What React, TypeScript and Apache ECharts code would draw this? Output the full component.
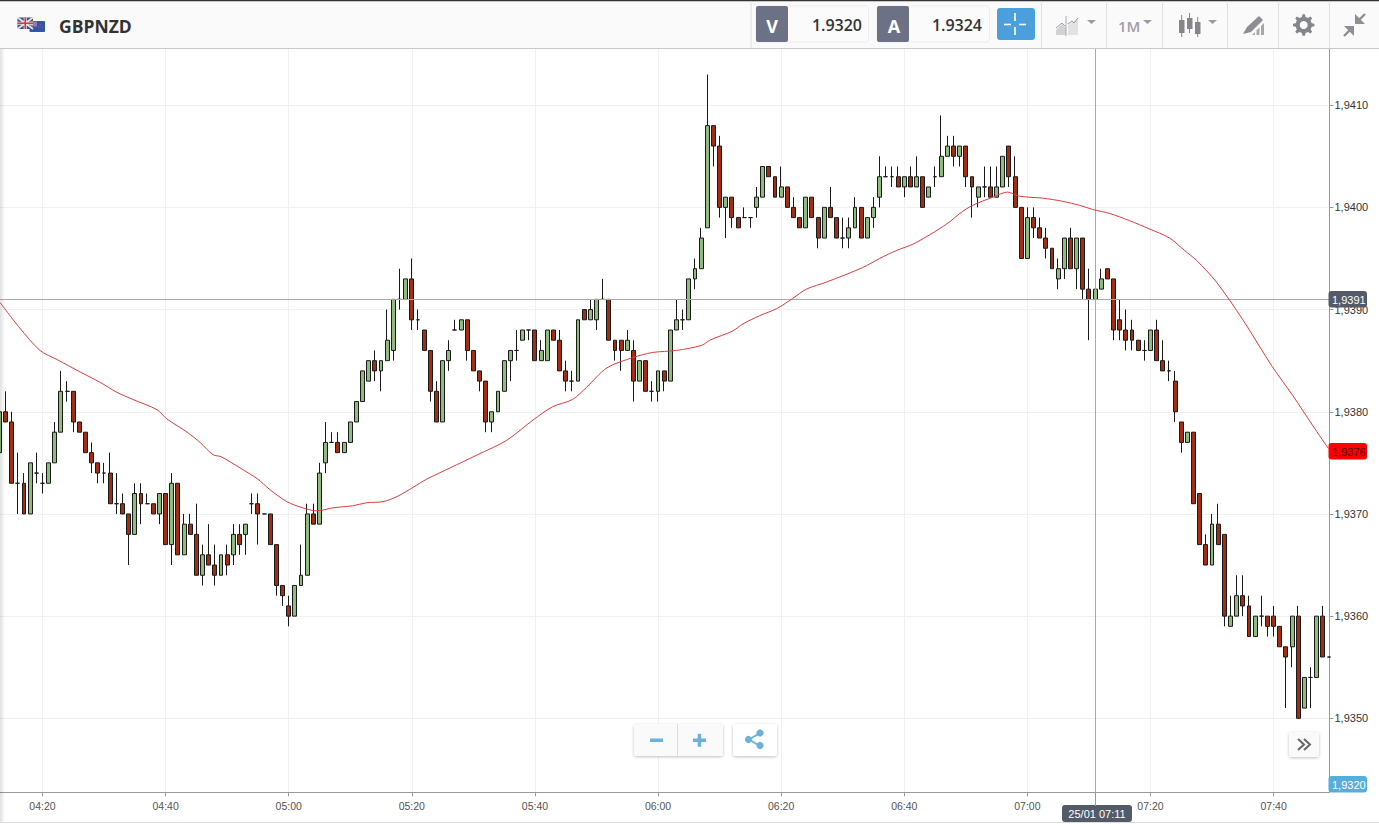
import React, { useEffect, useRef } from "react";
import * as echarts from "echarts";

// one row per minute from 04:13: open, close, low, high in pips above 1.9300
const firstMinute = 253;
const candles: number[][] = [
  [76,80,76,80],[80,79,79,82],[79,73,73,80],[73,73,70,76],[73,70,70,74],[70,75,70,75],[74,74,73,76],[73,73,72,74],
  [73,75,73,75],[75,78,75,79],[78,82,78,84],[82,82,81,83],[82,79,78,82],[79,78,78,79],[78,76,76,78],[76,75,74,77],
  [75,74,73,75],[74,74,73,75],[74,71,71,76],[71,71,70,74],[71,70,70,72],[70,68,65,70],[68,72,68,73],[72,71,69,73],
  [71,71,71,72],[71,70,70,71],[70,72,69,72],[72,67,67,72],[67,73,65,74],[73,66,66,73],[66,69,66,70],[69,68,68,70],
  [68,64,64,71],[64,66,63,67],[66,65,65,69],[65,64,63,67],[64,66,64,66],[66,65,64,67],
  [66,68,65,69],[68,67,66,69],[68,69,66,69],[71,71,70,72],[71,70,67,72],[70,70,70,70],[70,67,67,70],[67,63,62,67],
  [63,62,61,63],[61,60,59,62],[60,63,60,63],[63,64,63,67],[64,70,64,71],[70,69,69,71],[69,74,69,75],[75,77,74,79],
  [77,77,77,78],[77,76,76,78],[76,77,76,77],[77,79,77,79],[79,81,79,81],[81,84,81,84],[83,85,83,85],[85,84,83,86],
  [84,85,82,85],[85,87,85,90],[86,91,85,91],[91,91,90,94],[91,93,91,93],[93,89,88,95],[89,89,88,90],[88,86,86,88],
  [86,82,81,86],[82,79,79,83],[79,85,79,85],[85,86,84,87],
  [88,88,88,89],[88,89,88,89],[89,86,85,89],[86,84,84,86],[84,83,82,84],[83,79,78,83],[79,80,78,80],[80,82,80,82],
  [82,85,82,85],[85,86,83,86],[86,86,85,88],[87,88,87,88],[88,88,87,88],[88,85,85,88],[85,86,85,87],[85,88,85,88],
  [88,87,87,88],[87,84,84,88],[84,83,82,85],[83,83,82,84],[83,89,83,89],[90,89,89,90],[89,90,89,91],[89,91,88,91],
  [91,91,91,93],[91,87,87,91],[87,86,85,87],[87,86,84,87],[86,87,86,88],[86,83,81,87],[83,85,83,85],[85,82,82,85],
  [82,82,81,83],[82,84,81,84],[84,83,82,84],[83,88,83,88],
  [88,89,88,91],[89,89,88,90],[89,93,89,93],[93,94,92,95],[94,97,94,98],[98,108,98,113],[108,106,104,108],[106,100,99,107],
  [100,101,97,101],[101,99,98,101],[99,98,98,99],[99,99,99,100],[99,99,98,99],[100,101,99,102],[101,104,101,104],[104,103,103,104],
  [103,101,101,103],[101,102,101,104],[102,100,100,102],[100,99,99,101],[99,98,98,99],[98,101,98,101],[101,99,99,101],[99,97,96,99],
  [97,100,97,100],[100,99,99,102],[99,97,97,99],[97,97,96,99],[97,98,96,99],[98,100,98,101],[100,97,97,100],[97,99,97,99],
  [99,100,98,101],[101,103,100,105],[103,103,103,104],
  [103,103,102,104],[103,102,102,104],[102,103,101,103],[103,102,102,104],[102,103,102,105],[103,100,100,103],[101,102,101,102],[103,103,102,104],
  [103,105,103,109],[105,106,105,107],[106,105,104,107],[105,106,104,106],[106,103,102,106],[103,102,99,103],[101,102,100,102],[102,102,101,104],
  [102,101,101,104],[101,102,101,104],[102,105,102,105],[106,103,102,106],[103,100,100,105],[100,95,95,100],[95,99,95,100],[99,98,97,100],
  [98,97,97,99],[97,96,95,98],[96,94,94,96],[93,94,92,95],[94,97,93,97],[97,94,94,98],[94,97,92,97],[97,92,91,97],
  [92,91,87,94],[91,92,91,92],[92,93,92,94],[94,93,93,94],
  [93,88,87,93],[89,88,87,91],[88,87,86,90],[88,87,86,89],[87,86,86,87],[86,86,85,87],[86,88,86,88],[88,85,85,89],
  [85,84,84,87],[84,84,83,85],[83,80,79,84],[79,77,76,79],[77,78,77,78],[78,71,71,78],[72,67,67,72],[67,65,65,68],
  [65,69,65,70],[69,67,67,71],[68,60,59,68],[59,60,59,62],[60,62,60,64],[62,61,60,64],[61,58,58,62],[58,60,58,60],
  [60,60,59,62],[60,59,58,60],[60,59,58,61],[59,57,57,59],[57,56,51,57],[57,60,55,60],[60,50,50,61],[51,54,51,54],
  [54,54,51,55],[54,60,54,60],[60,56,56,61],[56,56,56,56],
];

// moving average: minute of day and pips above 1.9300
const maMinutes = [253.1,256.3,259.6,262.4,266.1,269.3,272.1,274.7,278.6,280.2,283.5,285.6,287.7,289,292.1,295,296.9,299.7,302.3,304.6,307.2,310.4,312.7,315.3,317.6,320.2,322.4,326.2,330.7,335.4,339.7,342.9,346.1,348.4,351.7,355.9,359.1,363,367.1,368.4,372.1,373.8,376.5,379.3,381.9,384.1,387.4,393.2,396,398.8,401.4,404.9,407.4,409,411.1,414.4,416.8,418.7,422.5,425.7,428.5,430.6,433.4,436.6,439.8,443.1,445.5,447.5,450.7,455,459.8,463.1,466.3,468.9];
const maPips = [90.7,88.2,86,85.1,83.9,82.9,81.9,81.2,80.2,79.3,78,77,75.8,75.6,74.5,73.4,72.4,71.2,70.6,70.3,70.6,70.8,71.1,71.2,71.7,72.6,73.4,74.5,75.8,77.2,79.2,80.5,81.2,82.4,84.3,85.3,85.8,86,86.5,87,87.9,88.6,89.4,90.1,91.1,92,92.7,94.1,95,95.8,96.4,97.6,98.6,99.4,100.2,101,101.5,101.1,100.9,100.6,100.2,99.8,99.4,98.7,97.9,97,95.8,94.8,92.7,89,84.4,81.6,78.7,76.4];

const priceTicks = [1.935, 1.936, 1.937, 1.938, 1.939, 1.94, 1.941];
const timeTicks = [260, 280, 300, 320, 340, 360, 380, 400, 420, 440, 460];
const crossPrice = 1.9391;
const crossMinute = 431;
const symbol = "GBPNZD";
const sellPrice = "1.9320";
const buyPrice = "1.9324";
const crossPriceLabel = "1,9391";
const maPriceLabel = "1,9376";
const lastPriceLabel = "1,9320";
const crossTimeLabel = "25/01 07:11";

const toPrice = (p: number) => +(1.93 + p * 0.0001).toFixed(5);
const hhmm = (m: number) =>
  String(Math.floor(m / 60)).padStart(2, "0") + ":" + String(Math.round(m % 60)).padStart(2, "0");

const ICON = "#9a9aa0";
const BLUE = "#6db1d9";
const TAG = "#555a68";
const FONT = '"Open Sans", sans-serif';
const ARIAL = '"Liberation Sans", Arial, sans-serif';

function rect(x: number, y: number, w: number, h: number, fill: string, r = 0, extra: any = {}) {
  return { type: "rect", z: 100, shape: { x, y, width: w, height: h, r }, style: { fill, ...extra } };
}
function line(x1: number, y1: number, x2: number, y2: number, stroke: string, lineWidth = 1) {
  return { type: "line", z: 101, shape: { x1, y1, x2, y2 }, style: { stroke, lineWidth } };
}
function poly(points: number[][], fill: string) {
  return { type: "polygon", z: 101, shape: { points }, style: { fill } };
}
function txt(text: string, x: number, y: number, fill: string, font: string, align = "left") {
  return { type: "text", z: 102, style: { text, x, y, fill, font, textAlign: align, textVerticalAlign: "middle" } };
}
function tag(y: number, fill: string, color: string, label: string) {
  return [rect(1328.5, y, 38.5, 16.5, fill, 3), txt(label, 1332, y + 8.5, color, `11px ${ARIAL}`)];
}
function gear(cx: number, cy: number) {
  const pts: number[][] = [];
  const teeth = 8;
  for (let i = 0; i < teeth; i++) {
    const a = (i / teeth) * Math.PI * 2;
    const s = Math.PI / teeth;
    [[-0.55, 8.2], [-0.3, 10.8], [0.3, 10.8], [0.55, 8.2]].forEach(([k, r]) => {
      pts.push([cx + r * Math.cos(a + k * s), cy + r * Math.sin(a + k * s)]);
    });
  }
  return [
    poly(pts, "#85858c"),
    { type: "circle", z: 102, shape: { cx, cy, r: 4 }, style: { fill: "#fafafa" } },
  ];
}

function buildGraphic() {
  const separators = [751, 1041.5, 1106.5, 1162.5, 1227.5, 1278.5, 1329.5];
  const sh = { shadowBlur: 3, shadowColor: "rgba(0,0,0,.25)", shadowOffsetY: 1 };
  return [
    rect(0, 0, 1379, 48, "#fafafa"),
    rect(0, 0, 1379, 1.2, "#333333"),
    rect(0, 48, 1379, 1, "#c8c8c8"),
    rect(0, 822, 1379, 1, "#dddddd"),
    {
      type: "rect", z: 99, shape: { x: 0, y: 0, width: 5, height: 822 },
      style: { fill: new echarts.graphic.LinearGradient(0, 0, 1, 0, [
        { offset: 0, color: "rgba(0,0,0,.12)" }, { offset: 1, color: "rgba(0,0,0,0)" },
      ]) },
    },
    // flags
    rect(17.5, 17.5, 15.5, 11.5, "#3f4f8f", 1),
    line(17.5, 17.5, 33, 29, "#f0e0e0", 1.6), line(33, 17.5, 17.5, 29, "#f0e0e0", 1.6),
    line(25.2, 17.5, 25.2, 29, "#f3eeee", 3), line(17.5, 23.2, 33, 23.2, "#f3eeee", 3),
    line(25.2, 17.5, 25.2, 29, "#cf3b3b", 1.6), line(17.5, 23.2, 33, 23.2, "#cf3b3b", 1.6),
    rect(29.5, 21, 15.5, 11, "#2f55ad", 1),
    rect(30, 21.5, 7, 5, "#8f7fa8"),
    line(40.5, 24, 40.5, 24.8, "#e05050", 1.4), line(38.5, 26.5, 38.5, 27.3, "#e05050", 1.4), line(42, 26.5, 42, 27.3, "#e05050", 1.4),
    txt(symbol, 59, 26, "#333333", `bold 17.5px ${FONT}`),
    ...separators.map((x) => line(x, 1, x, 48, "#e0e0e0")),
    // bid / ask
    rect(756, 6, 112.5, 36, "#fbfbfb", 3, { stroke: "#eeeeee", lineWidth: 1 }),
    rect(756, 6, 32, 36, "#6c7186", 2),
    txt("V", 772, 25.5, "#ffffff", `bold 18px ${FONT}`, "center"),
    txt(sellPrice, 862, 25, "#333333", `600 16px ${FONT}`, "right"),
    rect(877, 6, 112.5, 36, "#fbfbfb", 3, { stroke: "#eeeeee", lineWidth: 1 }),
    rect(877, 6, 32, 36, "#6c7186", 2),
    txt("A", 894, 25.5, "#ffffff", `bold 18px ${FONT}`, "center"),
    txt(buyPrice, 982, 25, "#333333", `600 16px ${FONT}`, "right"),
    rect(997, 8, 38, 32, "#4a9fdc", 3),
    line(1004, 24.5, 1011, 24.5, "#ffffff", 1.6), line(1019, 24.5, 1026, 24.5, "#ffffff", 1.6),
    line(1015, 13, 1015, 21, "#ffffff", 1.6), line(1015, 27, 1015, 35, "#ffffff", 1.6),
    // drawing tools
    poly([[1056, 30], [1062, 24], [1066, 28], [1066, 35], [1056, 35]], "#d2d2d4"),
    poly([[1068, 25], [1078, 19], [1078, 35], [1068, 35]], "#e2e2e4"),
    line(1056, 28, 1062, 23, "#9a9aa0", 1), line(1062, 23, 1065, 26, "#9a9aa0", 1),
    line(1068, 24, 1072, 21, "#9a9aa0", 1), line(1072, 21, 1074, 23, "#9a9aa0", 1), line(1074, 23, 1078, 18, "#9a9aa0", 1),
    line(1066, 16, 1066, 36, "#aaaaaa", 1),
    poly([[1087, 20], [1096, 20], [1091.5, 24]], ICON),
    txt("1M", 1118, 25.5, "#a0a0a8", `600 15px ${FONT}`),
    poly([[1143, 20], [1152, 20], [1147.5, 24]], ICON),
    line(1181.7, 15, 1181.7, 37, "#85858c", 1), rect(1179, 20, 5.5, 13, "#85858c"),
    line(1189.5, 13, 1189.5, 33, "#85858c", 1), rect(1187, 18, 5.5, 11, "#85858c"),
    line(1197.7, 17, 1197.7, 37, "#85858c", 1), rect(1195, 22, 5.5, 12, "#85858c"),
    poly([[1208, 20], [1217, 20], [1212.5, 24]], ICON),
    poly([[1243, 34], [1247, 27], [1259, 16], [1263, 20], [1251, 32]], "#8e8e94"),
    poly([[1252, 35], [1255, 32], [1255, 35]], "#a8a8ac"),
    poly([[1256.5, 35], [1256.5, 30.5], [1259.5, 27.5], [1259.5, 35]], "#a8a8ac"),
    poly([[1261, 35], [1261, 26], [1264, 23], [1264, 35]], "#a8a8ac"),
    ...gear(1303.7, 25),
    line(1344, 36, 1351, 29, "#8e8e94", 2.4), poly([[1354, 26], [1344, 26], [1354, 36]], "#8e8e94"),
    line(1365, 14, 1358, 21, "#8e8e94", 2.4), poly([[1355, 24], [1365, 24], [1355, 14]], "#8e8e94"),
    // price and time tags
    ...tag(291, TAG, "#ffffff", crossPriceLabel),
    ...tag(443, "#ff0000", "#4a0000", maPriceLabel),
    ...tag(776, "#55aedb", "#ffffff", lastPriceLabel),
    line(1095.5, 792, 1095.5, 806, "#999999"),
    rect(1062, 805, 70, 17, TAG, 3),
    txt(crossTimeLabel, 1097, 813.5, "#ffffff", `11px ${ARIAL}`, "center"),
    // zoom, share and forward buttons
    rect(634, 724, 89, 32, "#fafafa", 3, sh),
    line(677.5, 724, 677.5, 756, "#dddddd"),
    rect(650, 738.5, 13, 3.5, BLUE),
    rect(693, 738.5, 13, 3.5, BLUE),
    rect(697.7, 733.8, 3.5, 13, BLUE),
    rect(733, 724, 44, 32, "#ffffff", 3, sh),
    line(749, 739.5, 760, 733, BLUE, 2), line(749, 739.5, 760, 746, BLUE, 2),
    { type: "circle", z: 102, shape: { cx: 760, cy: 733, r: 3.6 }, style: { fill: BLUE } },
    { type: "circle", z: 102, shape: { cx: 748.5, cy: 739.5, r: 3.6 }, style: { fill: BLUE } },
    { type: "circle", z: 102, shape: { cx: 760, cy: 745.5, r: 3.6 }, style: { fill: BLUE } },
    rect(1289, 732, 30, 25, "#fafafa", 3, sh),
    { type: "polyline", z: 102, shape: { points: [[1298, 739], [1304, 744.5], [1298, 750]] }, style: { stroke: "#666666", lineWidth: 2, fill: "none" } },
    { type: "polyline", z: 102, shape: { points: [[1304, 739], [1310, 744.5], [1304, 750]] }, style: { stroke: "#666666", lineWidth: 2, fill: "none" } },
  ];
}

export default function App() {
  const ref = useRef<HTMLDivElement>(null);
  useEffect(() => {
    document.body.style.margin = "0";
    const chart = echarts.init(ref.current!, null, { renderer: "svg" });
    chart.setOption({
      animation: false,
      backgroundColor: "#ffffff",
      grid: { left: 0, top: 49, width: 1329.5, height: 743.3 },
      xAxis: {
        type: "value",
        min: 253.1,
        max: 469.08,
        axisLine: { lineStyle: { color: "#999999" } },
        axisTick: { length: 4, lineStyle: { color: "#999999" }, customValues: timeTicks },
        axisLabel: {
          customValues: timeTicks,
          color: "#555555",
          fontFamily: ARIAL,
          fontSize: 10.5,
          margin: 8,
          formatter: (v: number) => hhmm(v),
        },
        splitLine: { show: true, lineStyle: { color: "#f1f1f1" } },
      },
      yAxis: {
        type: "value",
        position: "right",
        min: 1.934276,
        max: 1.94155,
        axisLine: { show: true, lineStyle: { color: "#999999" } },
        axisTick: { show: true, length: 4, lineStyle: { color: "#999999" }, customValues: priceTicks },
        axisLabel: {
          customValues: priceTicks,
          color: "#333333",
          fontFamily: ARIAL,
          fontSize: 11,
          margin: 5,
          formatter: (v: number) => v.toFixed(4).replace(".", ","),
        },
        splitLine: { show: true, lineStyle: { color: "#f1f1f1" } },
      },
      series: [
        {
          type: "candlestick",
          barWidth: 4.4,
          data: candles.map((c, i) => [firstMinute + i, ...c.map(toPrice)]),
          itemStyle: {
            color: "#8fbb7e",
            color0: "#a32c12",
            borderColor: "#1a1a1a",
            borderColor0: "#1a1a1a",
            borderColorDoji: "#1a1a1a",
            borderWidth: 1,
          },
          markLine: {
            silent: true,
            symbol: "none",
            precision: 5,
            label: { show: false },
            lineStyle: { color: "#aaaaaa", width: 1, type: "solid" },
            data: [{ yAxis: crossPrice }, { xAxis: crossMinute }],
          },
        },
        {
          type: "line",
          data: maMinutes.map((m, i) => [m, toPrice(maPips[i])]),
          showSymbol: false,
          symbol: "none",
          smooth: 0.3,
          lineStyle: { color: "#e03c3c", width: 1 },
          z: 5,
        },
      ],
      graphic: { elements: buildGraphic() },
    });
    return () => chart.dispose();
  }, []);
  return <div ref={ref} style={{ position: "absolute", left: 0, top: 0, width: 1379, height: 824 }} />;
}
